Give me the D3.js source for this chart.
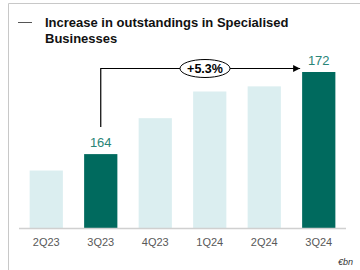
<!DOCTYPE html>
<html>
    <head>
        <meta charset="utf-8">
        <style>
            body { margin: 0; background: white; }
            svg { font-family: "Liberation Sans", Arial, sans-serif; }
            .frame { fill: none; stroke: #c8c8c8; stroke-width: 1; }
            .axis_line { stroke: #d0d0d0; stroke-width: 1.5; }
            .tick_label { fill: #595959; font-size: 11px; }
            .val_label { fill: #2a8577; font-size: 13px; }
            .fleche { fill: none; stroke: black; stroke-width: 1.2; }
        </style>
    </head>
    <body>
        <div id="chart"></div>
        <script src="https://cdn.jsdelivr.net/npm/d3@7"></script>
        <script>

//////////////////// donnees ////////////////////
let quarters = ['2Q23', '3Q23', '4Q23', '1Q24', '2Q24', '3Q24'];
let outstandings = [162.4, 164, 167.5, 170.1, 170.6, 172];
let highlighted = ['3Q23', '3Q24'];
let shownLabels = ['3Q23', '3Q24'];
let growthLabel = '+5.3%';
let titleLines = ['Increase in outstandings in Specialised', 'Businesses'];
let unitLabel = '€bn';

//////////////////// dimensions ////////////////////
let W = 360, H = 270;
let DARK = '#006a5e';
let LIGHT = '#dbeef0';

let svg = d3.select('#chart').append('svg')
    .attr('width', W)
    .attr('height', H);

// cadre (haut + gauche)
svg.append('path')
    .classed('frame', true)
    .attr('d', `M 8.5 ${H} L 8.5 3.5 L ${W} 3.5`);

// titre
svg.append('line')
    .attr('x1', 18).attr('x2', 32)
    .attr('y1', 22.5).attr('y2', 22.5)
    .attr('stroke', '#555').attr('stroke-width', 1);
titleLines.forEach((t, i) => {
    svg.append('text')
        .attr('x', 45)
        .attr('y', 27 + i * 16)
        .attr('font-size', 13)
        .attr('font-weight', 'bold')
        .attr('fill', '#111')
        .text(t);
});

//////////////////// echelles ////////////////////
let x = d3.scaleBand()
    .domain(quarters)
    .range([19, 346])
    .paddingInner(0.39)
    .paddingOuter(0.195);

let y = d3.scaleLinear()
    .domain([156.8, 172])
    .range([228, 72]);

// barres
svg.selectAll('rect.bar')
    .data(quarters)
    .enter().append('rect')
    .classed('bar', true)
    .attr('x', d => x(d))
    .attr('width', x.bandwidth())
    .attr('y', (d, i) => y(outstandings[i]))
    .attr('height', (d, i) => y.range()[0] - y(outstandings[i]))
    .attr('fill', d => highlighted.includes(d) ? DARK : LIGHT);

// axe
let axis = svg.append('g')
    .attr('transform', `translate(0, ${y.range()[0]})`)
    .call(d3.axisBottom(x).tickSize(0).tickPadding(10));
axis.select('.domain').attr('class', 'axis_line').attr('d', `M 19 0.5 L 346 0.5`);
axis.selectAll('.tick text')
    .attr('class', 'tick_label')
    .attr('font-family', null)
    .attr('font-size', null);

// etiquettes valeurs
quarters.forEach((q, i) => {
    if (!shownLabels.includes(q)) return;
    svg.append('text')
        .classed('val_label', true)
        .attr('x', x(q) + x.bandwidth() / 2)
        .attr('y', y(outstandings[i]) - 7)
        .attr('text-anchor', 'middle')
        .text(outstandings[i]);
});

// fleche de croissance
let q0 = shownLabels[0], q1 = shownLabels[1];
let xa = x(q0) + x.bandwidth() / 2;
let xb = x(q1) - 2;
let yTop = 68.5;
let yStart = y(outstandings[quarters.indexOf(q0)]) - 27;

svg.append('defs').append('marker')
    .attr('id', 'tete')
    .attr('viewBox', '0 0 10 10')
    .attr('refX', 10).attr('refY', 5)
    .attr('markerWidth', 7).attr('markerHeight', 7)
    .attr('markerUnits', 'userSpaceOnUse')
    .attr('orient', 'auto')
    .append('path')
    .attr('d', 'M 0 0 L 10 5 L 0 10 Z')
    .attr('fill', 'black');

svg.append('path')
    .classed('fleche', true)
    .attr('d', `M ${xa} ${yStart} L ${xa} ${yTop} L ${xb} ${yTop}`)
    .attr('marker-end', 'url(#tete)');

let cx = 205;
svg.append('ellipse')
    .attr('cx', cx).attr('cy', yTop)
    .attr('rx', 25).attr('ry', 9)
    .attr('fill', 'white')
    .attr('stroke', 'black')
    .attr('stroke-width', 1);
svg.append('text')
    .attr('x', cx).attr('y', yTop + 4.5)
    .attr('text-anchor', 'middle')
    .attr('font-size', 12.5)
    .attr('font-weight', 'bold')
    .text(growthLabel);

// unite
svg.append('text')
    .attr('x', 353).attr('y', 265)
    .attr('text-anchor', 'end')
    .attr('font-size', 9)
    .attr('font-style', 'italic')
    .attr('fill', '#333')
    .text(unitLabel);

        </script>
    </body>
</html>
